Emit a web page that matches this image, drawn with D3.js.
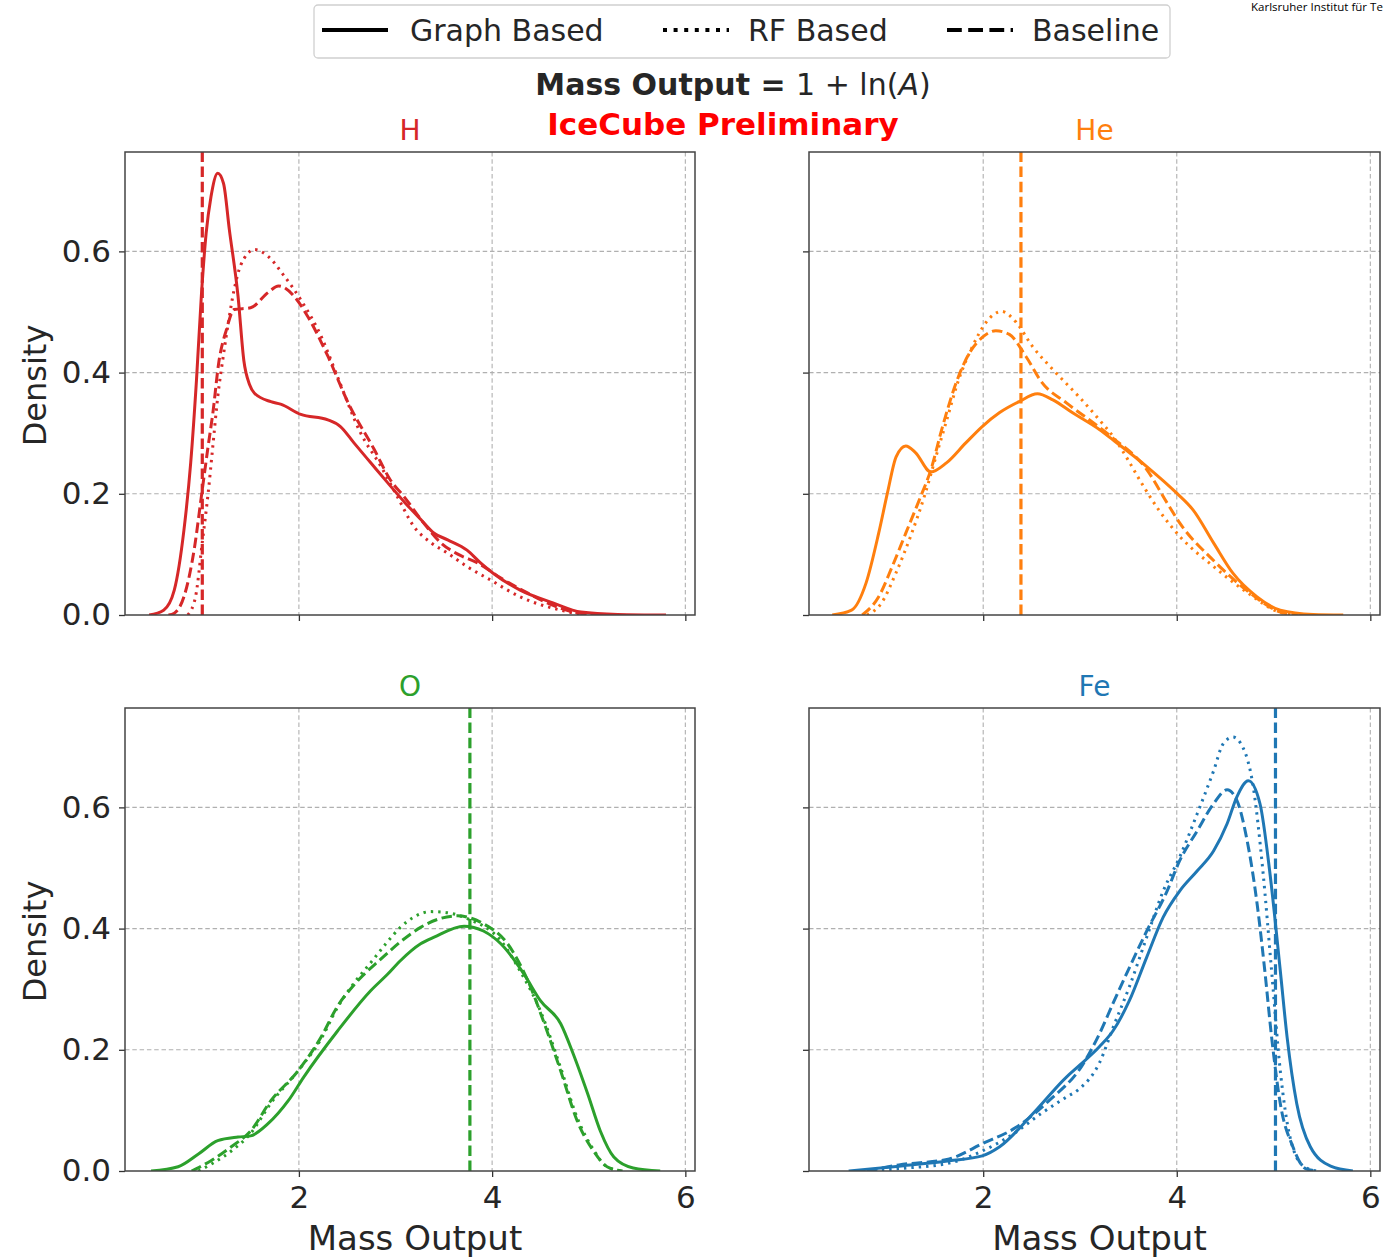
<!DOCTYPE html>
<html>
<head>
<meta charset="utf-8">
<script src="https://cdn.jsdelivr.net/npm/d3@7"></script>
<style>
  body { margin: 0; background: #fff; }
  svg { display: block; font-family: "DejaVu Sans", sans-serif; }
</style>
</head>
<body>
<svg id="chart" width="1393" height="1259"></svg>
<script>
// ---- data -------------------------------------------------------------
const elements = ["H", "He", "O", "Fe"];
const elementColors = ["#d62728", "#ff7f0e", "#2ca02c", "#1f77b4"];
const trueMass = [1.0, 2.39, 3.77, 5.02];          // 1 + ln(A) of each primary
const methods = ["Graph Based", "RF Based", "Baseline"];
const xTicks = [2, 4, 6];
const yTicks = [0, 0.2, 0.4, 0.6];
const xTickLabels = ["2", "4", "6"];
const yTickLabels = ["0.0", "0.2", "0.4", "0.6"];

// density curves, [mass output, density]
const hGraph = [[0.45,0],[0.6,0.008],[0.71,0.041],[0.81,0.14],[0.88,0.251],[0.94,0.388],[0.99,0.526],[1.04,0.63],[1.09,0.69],[1.16,0.729],[1.22,0.712],[1.28,0.636],[1.37,0.526],[1.43,0.42],[1.49,0.38],[1.54,0.366],[1.71,0.352],[1.81,0.348],[2.02,0.331],[2.30,0.322],[2.43,0.311],[2.57,0.284],[2.75,0.25],[2.92,0.218],[3.10,0.185],[3.26,0.158],[3.40,0.135],[3.54,0.124],[3.74,0.107],[3.88,0.086],[4.01,0.069],[4.29,0.041],[4.63,0.02],[4.92,0.005],[5.3,0.001],[5.8,0]];
const hRF = [[0.85,0],[0.93,0.03],[1.0,0.12],[1.06,0.2],[1.11,0.28],[1.16,0.36],[1.22,0.43],[1.27,0.483],[1.33,0.537],[1.40,0.578],[1.54,0.603],[1.68,0.592],[1.85,0.559],[2.02,0.52],[2.23,0.46],[2.40,0.393],[2.64,0.30],[2.85,0.245],[3.02,0.195],[3.19,0.146],[3.37,0.119],[3.54,0.102],[3.74,0.080],[3.98,0.058],[4.29,0.030],[4.71,0.008],[4.95,0.001],[5.2,0]];
const hBase = [[0.65,0],[0.71,0.003],[0.81,0.03],[0.92,0.112],[0.99,0.195],[1.06,0.278],[1.11,0.334],[1.17,0.416],[1.25,0.471],[1.33,0.504],[1.50,0.507],[1.68,0.532],[1.79,0.543],[1.95,0.526],[2.09,0.493],[2.30,0.427],[2.51,0.35],[2.78,0.273],[2.95,0.222],[3.09,0.195],[3.30,0.15],[3.47,0.119],[3.65,0.1],[3.85,0.086],[4.1,0.06],[4.37,0.036],[4.57,0.02],[4.91,0.003],[5.2,0]];

const heGraph = [[0.44,0],[0.64,0.008],[0.79,0.053],[0.92,0.135],[1.01,0.201],[1.10,0.261],[1.20,0.279],[1.30,0.268],[1.46,0.236],[1.62,0.251],[1.82,0.284],[1.99,0.311],[2.17,0.334],[2.37,0.352],[2.56,0.365],[2.72,0.355],[2.92,0.334],[3.20,0.306],[3.34,0.289],[3.69,0.245],[4.00,0.201],[4.17,0.173],[4.38,0.119],[4.58,0.069],[4.83,0.030],[5.07,0.008],[5.41,0.001],[5.72,0]];
const heRF = [[0.8,0],[0.95,0.02],[1.1,0.07],[1.25,0.13],[1.4,0.2],[1.5,0.255],[1.62,0.32],[1.75,0.39],[1.88,0.44],[2.03,0.483],[2.19,0.501],[2.34,0.483],[2.51,0.443],[2.72,0.405],[2.99,0.36],[3.2,0.322],[3.34,0.295],[3.5,0.255],[3.62,0.222],[3.82,0.172],[4.03,0.13],[4.38,0.080],[4.72,0.038],[5.07,0.004],[5.2,0]];
const heBase = [[0.75,0],[0.92,0.030],[1.06,0.080],[1.20,0.135],[1.34,0.19],[1.46,0.24],[1.58,0.311],[1.72,0.383],[1.86,0.433],[1.99,0.458],[2.13,0.469],[2.27,0.463],[2.44,0.427],[2.61,0.383],[2.86,0.35],[3.13,0.318],[3.34,0.292],[3.69,0.240],[3.90,0.185],[4.03,0.152],[4.38,0.09],[4.72,0.041],[5.07,0.005],[5.25,0]];

const oGraph = [[0.47,0],[0.75,0.007],[0.96,0.028],[1.16,0.05],[1.37,0.056],[1.50,0.058],[1.68,0.078],[1.89,0.116],[2.05,0.155],[2.40,0.231],[2.74,0.297],[2.92,0.325],[3.05,0.347],[3.26,0.375],[3.40,0.386],[3.71,0.404],[3.91,0.396],[4.09,0.375],[4.33,0.325],[4.50,0.281],[4.71,0.243],[4.84,0.193],[4.99,0.127],[5.12,0.066],[5.26,0.023],[5.46,0.005],[5.74,0]];
const oRF = [[0.96,0],[1.1,0.012],[1.30,0.033],[1.50,0.062],[1.71,0.112],[1.99,0.165],[2.23,0.218],[2.40,0.27],[2.57,0.31],[2.75,0.345],[2.9,0.375],[3.05,0.402],[3.2,0.42],[3.36,0.428],[3.50,0.427],[3.75,0.416],[4.09,0.38],[4.29,0.33],[4.50,0.264],[4.71,0.17],[4.88,0.088],[5.05,0.035],[5.19,0.007],[5.35,0]];
const oBase = [[0.89,0],[1.09,0.017],[1.30,0.04],[1.50,0.066],[1.71,0.116],[1.99,0.165],[2.23,0.221],[2.40,0.272],[2.57,0.307],[2.85,0.35],[3.05,0.378],[3.26,0.402],[3.45,0.416],[3.64,0.421],[3.91,0.408],[4.16,0.375],[4.37,0.314],[4.53,0.248],[4.71,0.165],[4.88,0.083],[5.05,0.033],[5.19,0.007],[5.35,0]];

const feGraph = [[0.61,0],[1.13,0.008],[1.65,0.017],[1.99,0.025],[2.17,0.04],[2.51,0.094],[2.86,0.155],[3.0,0.175],[3.20,0.205],[3.34,0.231],[3.51,0.281],[3.69,0.353],[3.86,0.419],[4.03,0.462],[4.21,0.495],[4.38,0.528],[4.52,0.573],[4.62,0.617],[4.74,0.644],[4.86,0.606],[4.96,0.495],[5.07,0.33],[5.14,0.221],[5.24,0.111],[5.38,0.04],[5.59,0.008],[5.82,0]];
const feRF = [[0.8,0],[1.13,0.004],[1.65,0.013],[1.99,0.033],[2.3,0.06],[2.6,0.095],[2.86,0.122],[2.99,0.135],[3.2,0.178],[3.35,0.24],[3.51,0.304],[3.69,0.386],[3.86,0.462],[4.03,0.518],[4.21,0.589],[4.38,0.660],[4.48,0.705],[4.58,0.716],[4.68,0.70],[4.79,0.634],[4.89,0.495],[4.98,0.33],[5.07,0.165],[5.17,0.056],[5.31,0.008],[5.45,0]];
const feBase = [[0.8,0],[1.13,0.01],[1.65,0.02],[1.99,0.045],[2.34,0.072],[2.68,0.116],[3.03,0.176],[3.20,0.226],[3.34,0.276],[3.69,0.396],[3.90,0.462],[4.03,0.512],[4.21,0.561],[4.38,0.606],[4.52,0.629],[4.62,0.612],[4.72,0.551],[4.83,0.441],[4.91,0.33],[4.98,0.221],[5.07,0.111],[5.2,0.04],[5.33,0.004],[5.45,0]];

const curves = [
  [hGraph, hRF, hBase],
  [heGraph, heRF, heBase],
  [oGraph, oRF, oBase],
  [feGraph, feRF, feBase]
];

// ---- layout -----------------------------------------------------------
const svg = d3.select("#chart");
const xDomain = [0.2, 6.1];
const yDomain = [0, 0.764];
const panelBoxes = [
  { x0: 125, x1: 695,  y0: 152, y1: 615,  left: true,  bottom: false },
  { x0: 809, x1: 1380, y0: 152, y1: 615,  left: false, bottom: false },
  { x0: 125, x1: 695,  y0: 708, y1: 1171, left: true,  bottom: true },
  { x0: 809, x1: 1380, y0: 708, y1: 1171, left: false, bottom: true }
];
const lineDash = ["none", "2.4,5", "10.5,4.6"];
const lineWidth = 3;
const textColor = "#262626";

const defs = svg.append("defs");

panelBoxes.forEach((b, i) => {
  const x = d3.scaleLinear().domain(xDomain).range([b.x0, b.x1]);
  const y = d3.scaleLinear().domain(yDomain).range([b.y1, b.y0]);
  const g = svg.append("g");

  defs.append("clipPath").attr("id", "clip" + i)
    .append("rect").attr("x", b.x0).attr("y", b.y0)
    .attr("width", b.x1 - b.x0).attr("height", b.y1 - b.y0);

  // grid
  g.selectAll(".gx").data(xTicks).enter().append("line")
    .attr("x1", d => x(d)).attr("x2", d => x(d))
    .attr("y1", b.y0).attr("y2", b.y1)
    .attr("stroke", "#b0b0b0").attr("stroke-width", 1.1).attr("stroke-dasharray", "4.5,2.8");
  g.selectAll(".gy").data(yTicks.slice(1)).enter().append("line")
    .attr("x1", b.x0).attr("x2", b.x1)
    .attr("y1", d => y(d)).attr("y2", d => y(d))
    .attr("stroke", "#b0b0b0").attr("stroke-width", 1.1).attr("stroke-dasharray", "4.5,2.8");

  // axes
  const ax = d3.axisBottom(x).tickValues(xTicks).tickSize(6).tickPadding(9)
    .tickFormat((d, k) => b.bottom ? xTickLabels[k] : "");
  const ay = d3.axisLeft(y).tickValues(yTicks).tickSize(6).tickPadding(8)
    .tickFormat((d, k) => b.left ? yTickLabels[k] : "");
  const gx = g.append("g").attr("transform", `translate(0,${b.y1})`).call(ax);
  const gy = g.append("g").attr("transform", `translate(${b.x0},0)`).call(ay);
  [gx, gy].forEach(a => {
    a.select(".domain").remove();
    a.selectAll(".tick line").attr("stroke", "#333").attr("stroke-width", 1.3);
    a.selectAll(".tick text").attr("fill", textColor).style("font-size", "31px")
      .style("font-family", '"DejaVu Sans", sans-serif');
  });

  // curves
  const line = d3.line().x(d => x(d[0])).y(d => y(d[1])).curve(d3.curveMonotoneX);
  const cg = g.append("g").attr("clip-path", `url(#clip${i})`);
  curves[i].forEach((c, m) => {
    cg.append("path").datum(c).attr("d", line)
      .attr("fill", "none").attr("stroke", elementColors[i])
      .attr("stroke-width", lineWidth)
      .attr("stroke-dasharray", lineDash[m])
      .attr("stroke-linecap", "butt")
      .attr("stroke-linejoin", "round");
  });
  // true mass marker
  cg.append("line")
    .attr("x1", x(trueMass[i])).attr("x2", x(trueMass[i]))
    .attr("y1", b.y1).attr("y2", b.y0)
    .attr("stroke", elementColors[i]).attr("stroke-width", 3.2)
    .attr("stroke-dasharray", lineDash[2]);

  // frame
  g.append("rect").attr("x", b.x0).attr("y", b.y0)
    .attr("width", b.x1 - b.x0).attr("height", b.y1 - b.y0)
    .attr("fill", "none").attr("stroke", "#444").attr("stroke-width", 1.5);

  // element title
  g.append("text").attr("x", (b.x0 + b.x1) / 2).attr("y", b.y0 - 12)
    .attr("text-anchor", "middle").attr("fill", elementColors[i])
    .style("font-size", "28px").text(elements[i]);

  if (b.left) {
    g.append("text")
      .attr("transform", `translate(46,${(b.y0 + b.y1) / 2 + 2}) rotate(-90)`)
      .attr("text-anchor", "middle").attr("fill", textColor)
      .style("font-size", "32px").text("Density");
  }
  if (b.bottom) {
    g.append("text").attr("x", (b.x0 + b.x1) / 2 + 5).attr("y", 1250)
      .attr("text-anchor", "middle").attr("fill", textColor)
      .style("font-size", "34px").text("Mass Output");
  }
});

// ---- titles -------------------------------------------------------------
const title = svg.append("text").attr("x", 733).attr("y", 95)
  .attr("text-anchor", "middle").attr("fill", textColor).style("font-size", "30px");
title.append("tspan").attr("font-weight", "bold").text("Mass Output = ");
title.append("tspan").text("1 + ln(");
title.append("tspan").attr("font-style", "italic").text("A");
title.append("tspan").text(")");

svg.append("text").attr("x", 723).attr("y", 135)
  .attr("text-anchor", "middle").attr("fill", "#ff0000")
  .attr("font-weight", "bold").style("font-size", "31px").text("IceCube Preliminary");

svg.append("text").attr("x", 1251).attr("y", 11)
  .attr("fill", "#000").style("font-size", "11.5px")
  .style("font-family", '"Open Sans", sans-serif')
  .text("Karlsruher Institut für Te");

// ---- legend -------------------------------------------------------------
const legend = svg.append("g");
legend.append("rect").attr("x", 314).attr("y", 5).attr("width", 856).attr("height", 53)
  .attr("rx", 4).attr("fill", "#fff").attr("stroke", "#d0d0d0").attr("stroke-width", 1.3);
const legendX = [322, 663, 947];
const legendDash = ["none", "4,6.6", "14.8,6.4"];
methods.forEach((name, k) => {
  legend.append("line")
    .attr("x1", legendX[k]).attr("x2", legendX[k] + 66)
    .attr("y1", 30).attr("y2", 30)
    .attr("stroke", "#000").attr("stroke-width", 4.2)
    .attr("stroke-dasharray", legendDash[k]);
  legend.append("text").attr("x", legendX[k] + (k === 0 ? 88 : 85)).attr("y", 41)
    .attr("fill", textColor).style("font-size", "30px").text(name);
});
</script>
</body>
</html>
